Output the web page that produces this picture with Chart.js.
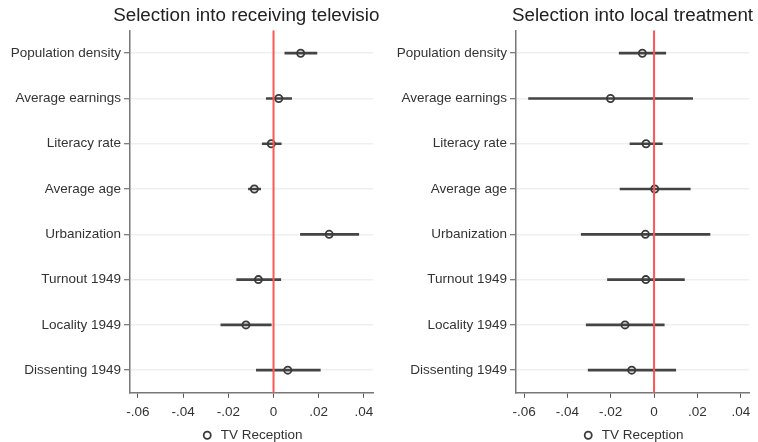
<!DOCTYPE html>
<html>
<head>
    <script src="https://cdn.jsdelivr.net/npm/chart.js"></script>
    <style>
        html, body {
            margin: 0;
            overflow: hidden;
            background: #fff;
            font-family: "Liberation Sans", Arial, sans-serif;
        }
        .frame {
            position: absolute;
            top: 0;
            height: 442px;
            overflow: hidden;
            background: #fff;
        }
        .panel { position: relative; height: 452px; }
        #leftFrame { left: 0; width: 380px; }
        #rightFrame { left: 380px; width: 378px; }
    </style>
</head>
<body>
    <div class="frame" id="leftFrame"><div class="panel"><canvas id="tvChart"></canvas></div></div>
    <div class="frame" id="rightFrame"><div class="panel"><canvas id="localChart"></canvas></div></div>
    <script>
        const categories = ["Population density", "Average earnings", "Literacy rate", "Average age",
                            "Urbanization", "Turnout 1949", "Locality 1949", "Dissenting 1949"];
        const xTicks = [-0.06, -0.04, -0.02, 0, 0.02, 0.04];
        const xTickLabels = ["-.06", "-.04", "-.02", "0", ".02", ".04"];

        // receiving television
        const tvEst  = [0.0120, 0.0023, -0.0010, -0.0085, 0.0246, -0.0067, -0.0122, 0.0063];
        const tvLow  = [0.0050, -0.0032, -0.0050, -0.0111, 0.0119, -0.0163, -0.0233, -0.0076];
        const tvHigh = [0.0192, 0.0080, 0.0034, -0.0057, 0.0377, 0.0032, -0.0010, 0.0207];

        // local treatment
        const localEst  = [-0.0054, -0.0201, -0.0037, 0.0003, -0.0040, -0.0038, -0.0134, -0.0103];
        const localLow  = [-0.0161, -0.0579, -0.0111, -0.0157, -0.0336, -0.0215, -0.0313, -0.0304];
        const localHigh = [0.0054, 0.0178, 0.0038, 0.0167, 0.0258, 0.0140, 0.0047, 0.0100];

        const FONT = "'Liberation Sans', Arial, sans-serif";
        const TEXT = '#333';

        // red reference line at zero, drawn over the estimates
        const zeroLine = {
            id: 'zeroLine',
            afterDatasetsDraw(chart) {
                const {ctx, chartArea, scales} = chart;
                const x = scales.x.getPixelForValue(0);
                ctx.save();
                ctx.strokeStyle = 'rgb(255, 85, 85)';
                ctx.lineWidth = 2;
                ctx.beginPath();
                ctx.moveTo(x, chartArea.top);
                ctx.lineTo(x, chartArea.bottom);
                ctx.stroke();
                ctx.restore();
            }
        };

        // let a long title run past the plot area instead of being squeezed
        const wideTitle = {
            id: 'wideTitle',
            afterLayout(chart) {
                const t = chart.titleBlock;
                if (t) { t.left -= 60; t.right += 60; }
            }
        };

        function coefPlot(id, title, est, low, high, opts) {
            new Chart(document.getElementById(id), {
                type: 'bar',
                data: {
                    labels: categories,
                    datasets: [
                        {
                            type: 'line',
                            label: 'TV Reception',
                            data: est.map((v, i) => ({x: v, y: categories[i]})),
                            showLine: false,
                            pointRadius: 3.6,
                            pointBorderWidth: 1.8,
                            pointBorderColor: '#3a3a3a',
                            pointBackgroundColor: 'rgba(0,0,0,0)',
                            borderColor: '#3a3a3a',
                            backgroundColor: 'rgba(0,0,0,0)',
                            borderWidth: 1.5
                        },
                        {
                            label: 'ci',
                            data: low.map((v, i) => [v, high[i]]),
                            backgroundColor: '#444',
                            barThickness: 2
                        }
                    ]
                },
                options: {
                    indexAxis: 'y',
                    responsive: true,
                    maintainAspectRatio: false,
                    animation: false,
                    layout: { padding: { right: opts.padRight, bottom: 0 } },
                    scales: {
                        x: {
                            type: 'linear',
                            min: opts.min,
                            max: opts.max,
                            afterBuildTicks: axis => { axis.ticks = xTicks.map(v => ({value: v})); },
                            ticks: {
                                callback: v => xTickLabels[xTicks.indexOf(v)] ?? '',
                                color: TEXT,
                                font: { family: FONT, size: 13.5 },
                                padding: 6,
                                maxRotation: 0
                            },
                            grid: {
                                drawOnChartArea: false,
                                tickLength: 5,
                                tickColor: '#555',
                                tickWidth: 1
                            },
                            border: { color: '#777', width: 1.5 }
                        },
                        y: {
                            type: 'category',
                            offset: true,
                            afterFit: axis => { axis.width = opts.axisWidth; },
                            ticks: {
                                color: TEXT,
                                font: { family: FONT, size: 13.5 },
                                padding: 3
                            },
                            grid: {
                                offset: false,
                                color: '#efefef',
                                lineWidth: 1.5,
                                tickLength: 6,
                                tickColor: '#555',
                                tickWidth: 1
                            },
                            border: { color: '#777', width: 1.5 }
                        }
                    },
                    plugins: {
                        title: {
                            display: true,
                            text: title,
                            fullSize: false,
                            color: '#222',
                            font: { family: FONT, size: 18.8, weight: 'normal' },
                            padding: { top: 5, bottom: 3 }
                        },
                        legend: {
                            position: 'bottom',
                            fullSize: false,
                            labels: {
                                filter: item => item.text !== 'ci',
                                usePointStyle: true,
                                pointStyle: 'circle',
                                boxHeight: 5,
                                color: TEXT,
                                font: { family: FONT, size: 13.5 },
                                padding: 2.5
                            }
                        },
                        tooltip: { enabled: false }
                    }
                },
                plugins: [zeroLine, wideTitle]
            });
        }

        coefPlot('tvChart', 'Selection into receiving television', tvEst, tvLow, tvHigh,
                 { min: -0.0635, max: 0.044, axisWidth: 130, padRight: 7 });
        coefPlot('localChart', 'Selection into local treatment', localEst, localLow, localHigh,
                 { min: -0.0637, max: 0.0438, axisWidth: 136, padRight: 9 });
    </script>
</body>
</html>
